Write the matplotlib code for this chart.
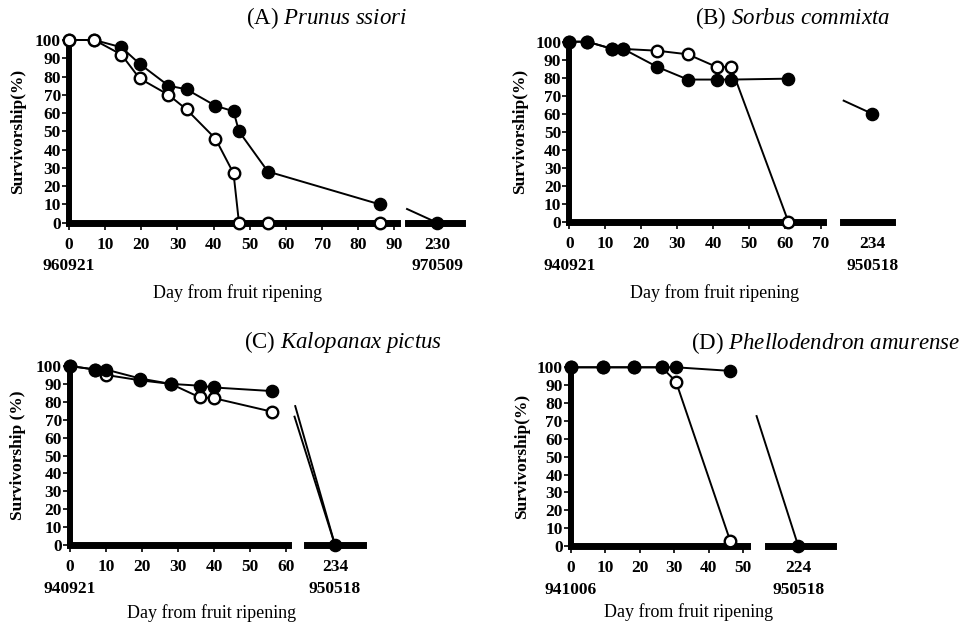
import matplotlib
matplotlib.use("Agg")
import matplotlib.pyplot as plt

plt.rcParams['font.family'] = ['Liberation Serif', 'DejaVu Serif']
plt.rcParams['mathtext.fontset'] = 'custom'
plt.rcParams['mathtext.rm'] = 'Liberation Serif'
plt.rcParams['mathtext.it'] = 'Liberation Serif:italic'

# ---------------- data ----------------
# (A) Prunus ssiori
A_days = [0, 7, 14.5, 19.5, 27.5, 32.5, 40.5, 45.5, 47, 55, 86]
A_filled = [100, 100, 96, 87, 75, 73, 64, 61, 50, 28, 10]
A_open = [100, 100, 92, 79, 70, 62, 46, 27, 0, 0, 0]
A_break_day, A_break_val = 230, 0
A_gap_entry = [(221.7, 7.5)]
A_xticks = [0, 10, 20, 30, 40, 50, 60, 70, 80, 90]
A_dates = ("960921", "970509")

# (B) Sorbus commixta
B_days = [0, 5, 12, 15, 24.5, 33, 41, 45, 61]
B_filled = [100, 100, 96, 96, 86, 79, 79, 79, 79.5]
B_open = [100, 100, 96, 96, 95, 93, 86, 86, 0]
B_break_day, B_break_val = 234, 60
B_gap_entry = [(226, 67.3)]
B_xticks = [0, 10, 20, 30, 40, 50, 60, 70]
B_dates = ("940921", "950518")

# (C) Kalopanax pictus
C_days = [0, 7, 10, 19.5, 28, 36, 40, 56]
C_filled = [100, 98, 98, 93, 90, 89, 88, 86]
C_open = [100, 98, 95, 92, 90, 82.5, 82, 74.5]
C_break_day, C_break_val = 234, 0
C_gap_entry = [(222.9, 77.6), (222.7, 71.7)]
C_xticks = [0, 10, 20, 30, 40, 50, 60]
C_dates = ("940921", "950518")

# (D) Phellodendron amurense
D_days = [0, 9.5, 18.3, 26.4, 30.5, 46.2]
D_filled = [100, 100, 100, 100, 100, 98]
D_open = [100, 100, 100, 100, 92, 3]
D_break_day, D_break_val = 224, 0
D_gap_entry = [(211.9, 72.7)]
D_xticks = [0, 10, 20, 30, 40, 50]
D_dates = ("941006", "950518")

yticks = [0, 10, 20, 30, 40, 50, 60, 70, 80, 90, 100]

# ---------------- layout ----------------
W, H = 970, 623
fig = plt.figure(figsize=(W / 100, H / 100), dpi=100)
fig.patch.set_facecolor('white')


def px_axes(x0, x1, ytop, ybot):
    return fig.add_axes([x0 / W, 1 - ybot / H, (x1 - x0) / W, (ybot - ytop) / H])


panels = [
    dict(label="(A)", name=r"Prunus\ ssiori", days=A_days, filled=A_filled, opn=A_open,
         bday=A_break_day, bval=A_break_val, gap=A_gap_entry, xticks=A_xticks, dates=A_dates,
         main=(69, 397, 40, 222.7), xmax=90.7, brk=(408.3, 461.7), bxlim=(222.05, 236.8),
         title_xy=(326.7, 18), ylab="Survivorship(%)", ylab_x=18, xlab_xy=(237.5, 293),
         open_top=True),
    dict(label="(B)", name=r"Sorbus\ commixta", days=B_days, filled=B_filled, opn=B_open,
         bday=B_break_day, bval=B_break_val, gap=B_gap_entry, xticks=B_xticks, dates=B_dates,
         main=(569.3, 823.3, 41.7, 222), xmax=70.7, brk=(843.3, 891.7), bxlim=(225.9, 239.4),
         title_xy=(793, 18), ylab="Survivorship(%)", ylab_x=520, xlab_xy=(715, 293),
         open_top=False),
    dict(label="(C)", name=r"Kalopanax\ pictus", days=C_days, filled=C_filled, opn=C_open,
         bday=C_break_day, bval=C_break_val, gap=C_gap_entry, xticks=C_xticks, dates=C_dates,
         main=(70, 288.3, 366, 545), xmax=60.6, brk=(306.7, 363.3), bxlim=(226.1, 241.9),
         title_xy=(343.3, 341.7), ylab="Survivorship (%)", ylab_x=18, xlab_xy=(212, 613),
         open_top=False),
    dict(label="(D)", name=r"Phellodendron\ amurense", days=D_days, filled=D_filled, opn=D_open,
         bday=D_break_day, bval=D_break_val, gap=D_gap_entry, xticks=D_xticks, dates=D_dates,
         main=(570.7, 746.7, 367.3, 546), xmax=51, brk=(768.3, 832.7), bxlim=(215.3, 234),
         title_xy=(826, 343.3), ylab="Survivorship(%)", ylab_x=521.7, xlab_xy=(689, 611.7),
         open_top=False),
]

TICK_FS = 12.5
LW = 1.4
MS = 8.8
XPAD = 5.0
LSP = 1.45

for p in panels:
    x0, x1, yt, yb = p['main']
    ax = px_axes(x0, x1, yt, yb)
    ax.set_xlim(0, p['xmax'])
    ax.set_ylim(0, 100)
    ax.set_facecolor('none')
    for s in ('top', 'right'):
        ax.spines[s].set_visible(False)
    ax.spines['left'].set_linewidth(4.3)
    ax.spines['bottom'].set_linewidth(5)
    ax.spines['left'].set_bounds(0, 100)
    ax.spines['left'].set_capstyle('projecting')
    ax.spines['bottom'].set_capstyle('projecting')
    ax.set_yticks(yticks)
    ax.set_yticklabels([str(v) for v in yticks], fontweight='bold')
    ax.set_xticks(p['xticks'])
    xl = [str(t) for t in p['xticks']]
    xl[0] = f"{xl[0]}\n{p['dates'][0]}"
    ax.set_xticklabels(xl, linespacing=LSP, fontweight='bold')
    ax.tick_params(axis='y', direction='out', length=5.3, width=1.2, labelsize=TICK_FS, pad=0.5)
    ax.tick_params(axis='x', direction='out', length=5.3, width=1.2, labelsize=TICK_FS, pad=XPAD)

    zf, zo = (4, 5) if p['open_top'] else (5, 4)
    ax.plot(p['days'], p['opn'], '-o', color='black', mfc='white', mec='black',
            ms=MS - 0.5, mew=1.7, lw=LW, clip_on=False, zorder=zo)
    ax.plot(p['days'], p['filled'], '-o', color='black', mfc='black', mec='black',
            ms=MS, lw=LW, clip_on=False, zorder=zf)

    ax.set_ylabel(p['ylab'], fontsize=12.5, fontweight='bold', va='center')
    ax.yaxis.set_label_coords((p['ylab_x'] - x0) / (x1 - x0), 0.5)
    ax.set_xlabel("Day from fruit ripening", fontsize=13, va='center')
    ax.xaxis.set_label_coords((p['xlab_xy'][0] - x0) / (x1 - x0),
                              (yb - p['xlab_xy'][1]) / (yb - yt))

    # broken-axis part
    bx0, bx1 = p['brk']
    axb = px_axes(bx0, bx1, yt, yb)
    axb.set_xlim(*p['bxlim'])
    axb.set_ylim(0, 100)
    axb.set_facecolor('none')
    for s in ('top', 'right', 'left'):
        axb.spines[s].set_visible(False)
    axb.spines['bottom'].set_linewidth(5)
    axb.spines['bottom'].set_capstyle('projecting')
    axb.set_yticks([])
    axb.set_xticks([p['bday']])
    axb.set_xticklabels([f"{p['bday']}\n{p['dates'][1]}"], linespacing=LSP, fontweight='bold')
    axb.tick_params(axis='x', direction='out', length=0, width=1.2, labelsize=TICK_FS,
                    pad=XPAD + 5.3)
    for (ed, ev) in p['gap']:
        axb.plot([ed, p['bday']], [ev, p['bval']], '-', color='black', lw=LW,
                 clip_on=False, zorder=4)
    axb.plot([p['bday']], [p['bval']], 'o', color='black', ms=MS, clip_on=False, zorder=5)

    tx, ty = p['title_xy']
    fig.text(tx / W, 1 - ty / H, f"{p['label']} $\\it{{{p['name']}}}$",
             fontsize=16.5, ha='center', va='center')

fig.savefig("out.png", dpi=100, facecolor='white')
